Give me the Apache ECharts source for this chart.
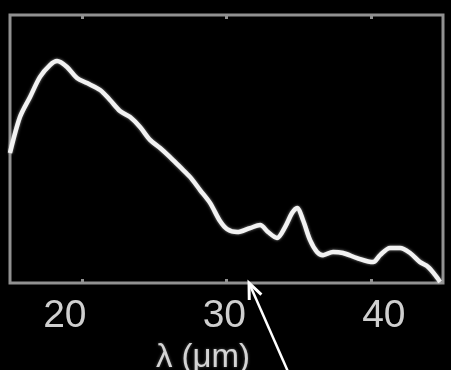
<!DOCTYPE html>
<html>
<head>
<meta charset="utf-8">
<style>
  html, body { margin: 0; padding: 0; background: #000; }
  #chart { width: 451px; height: 370px; }
</style>
<script src="https://cdn.jsdelivr.net/npm/echarts@6/dist/echarts.min.js"></script>
</head>
<body>
<div id="chart"></div>
<script>
// Emission spectrum: wavelength (µm) vs normalised intensity
const wavelength = [
  15.00, 15.69, 16.39, 17.08, 17.77, 18.26, 18.95, 19.64, 20.34, 21.24,
  21.93, 22.62, 23.32, 24.01, 24.70, 25.40, 26.09, 26.78, 27.47, 28.17,
  28.86, 29.55, 30.04, 30.74, 31.63, 32.33, 32.88, 33.50, 34.06, 34.54,
  34.89, 35.30, 35.79, 36.27, 36.69, 37.38, 38.08, 39.05, 40.16, 40.64,
  41.33, 42.03, 42.72, 43.41, 43.97, 44.45, 44.80
];
const intensity = [
  48.5, 61.9, 69.4, 76.9, 81.3, 82.8, 80.6, 76.5, 74.6, 72.0,
  68.3, 64.2, 61.9, 58.2, 53.4, 50.4, 47.0, 43.3, 39.6, 34.7,
  29.9, 23.1, 20.1, 19.0, 20.5, 21.6, 19.0, 16.8, 20.9, 26.1,
  28.0, 23.5, 16.0, 11.6, 10.4, 11.6, 11.2, 9.3, 7.8, 10.4,
  13.1, 13.1, 11.2, 7.8, 6.0, 3.0, 0.4
];
const tickValues = [20, 30, 40];
const axisTitle = 'λ (μm)';
// annotation arrow: tip sits on the wavelength axis
const arrowTip = [31.56, 0];

const frameColor = '#919191';

const chart = echarts.init(document.getElementById('chart'), null, { renderer: 'canvas' });

const option = {
  backgroundColor: '#000000',
  animation: false,
  grid: {
    left: 10, top: 15, right: 8, bottom: 87,
    containLabel: false,
    outerBoundsMode: 'none',
    show: true,
    borderColor: frameColor,
    borderWidth: 3,
    backgroundColor: 'transparent'
  },
  xAxis: [
    {
      type: 'value', position: 'bottom', min: 15, max: 45,
      axisLine: { show: false },
      splitLine: { show: false },
      axisTick: { show: true, inside: true, length: 4, customValues: tickValues,
                  lineStyle: { color: frameColor, width: 3 } },
      axisLabel: { show: false }
    },
    {
      type: 'value', position: 'top', min: 15, max: 45,
      axisLine: { show: false },
      splitLine: { show: false },
      axisTick: { show: true, inside: true, length: 4, customValues: tickValues,
                  lineStyle: { color: frameColor, width: 3 } },
      axisLabel: { show: false }
    },
    {
      // label scale for the tick numbers and the axis title
      type: 'value', position: 'bottom', min: 16.56, max: 43.71,
      axisLine: { show: false },
      splitLine: { show: false },
      axisTick: { show: false },
      axisLabel: {
        show: true, customValues: tickValues, margin: 14,
        color: '#cfcfcf', fontSize: 39,
        fontFamily: 'Liberation Sans, Arial, sans-serif'
      },
      name: axisTitle,
      nameLocation: 'middle',
      nameGap: 58,
      nameTextStyle: {
        color: '#d4d4d4', fontSize: 33,
        fontFamily: 'Liberation Sans, Arial, sans-serif',
        padding: [0, 47, 0, 0],
        textShadowColor: 'rgba(255,255,255,0.35)', textShadowBlur: 3
      }
    }
  ],
  yAxis: {
    type: 'value', min: 0, max: 100, show: false
  },
  series: [{
    type: 'line',
    xAxisIndex: 0,
    data: wavelength.map((w, i) => [w, intensity[i]]),
    smooth: 0.3,
    showSymbol: false,
    clip: false,
    lineStyle: {
      color: '#f2f2f2', width: 4.5,
      shadowColor: 'rgba(255,255,255,0.55)', shadowBlur: 3
    }
  }]
};

chart.setOption(option);

// Pointer arrow aimed at the axis position
const tip = chart.convertToPixel({ xAxisIndex: 0, yAxisIndex: 0 }, arrowTip);
const dir = [0.44, 1];
const len = Math.hypot(dir[0], dir[1]);
const ux = dir[0] / len, uy = dir[1] / len;
const tailLen = 100;
const headLen = 17, headSpread = 0.4;
const ang = Math.atan2(uy, ux);
const arm = (s) => [tip[0] + headLen * Math.cos(ang + s), tip[1] + headLen * Math.sin(ang + s)];
chart.setOption({
  graphic: [
    {
      type: 'line', z: 100,
      shape: { x1: tip[0] + ux * 2, y1: tip[1] + uy * 2, x2: tip[0] + ux * tailLen, y2: tip[1] + uy * tailLen },
      style: { stroke: '#ffffff', lineWidth: 2.5 }
    },
    {
      type: 'polyline', z: 100,
      shape: { points: [arm(headSpread), tip, arm(-headSpread)] },
      style: { stroke: '#ffffff', lineWidth: 3, fill: null, lineJoin: 'miter' }
    }
  ]
});
</script>
</body>
</html>
